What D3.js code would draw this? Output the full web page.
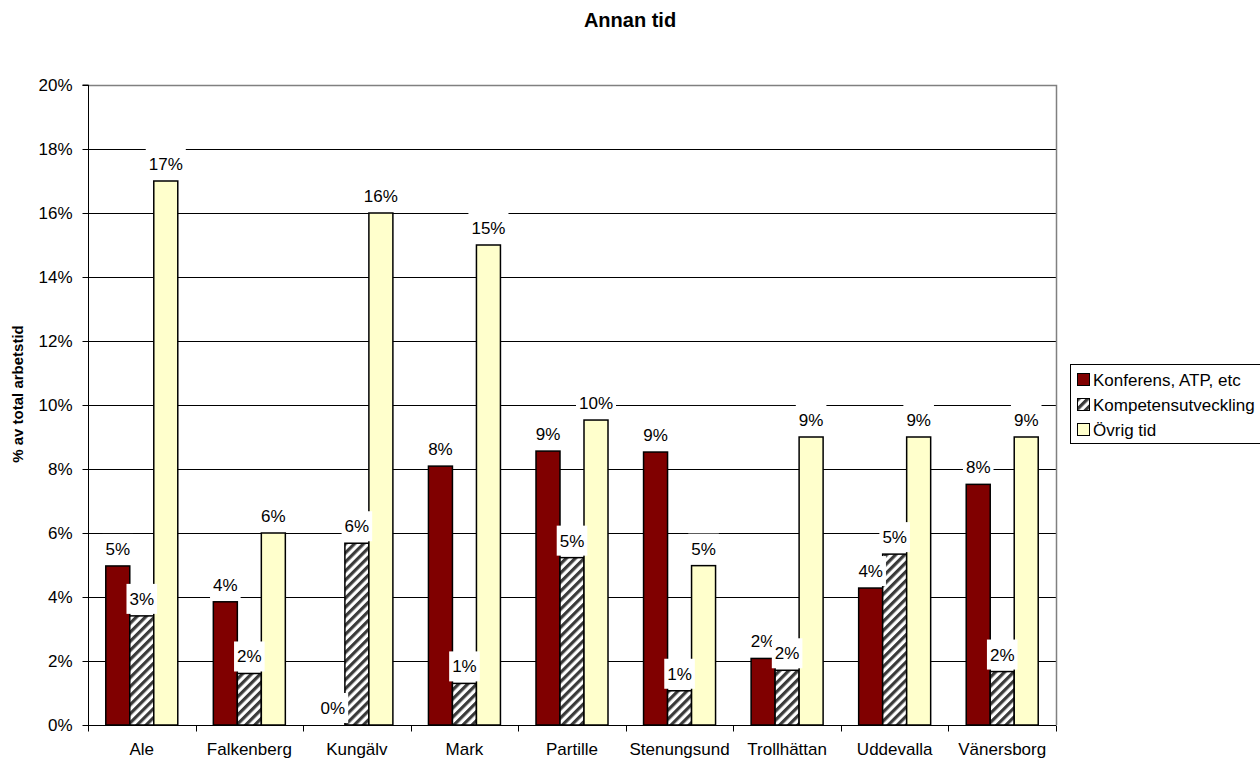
<!DOCTYPE html>
<html><head><meta charset="utf-8">
<script src="https://cdn.jsdelivr.net/npm/d3@7"></script>
<style>
html,body{margin:0;padding:0;background:#fff;}
svg{display:block;font-family:Arial,"Liberation Sans",sans-serif;}
</style></head>
<body>
<svg id="chart" width="1260" height="760"></svg>
<script>
const title = "Annan tid";
const yTitle = "% av total arbetstid";
const categories = ["Ale","Falkenberg","Kungälv","Mark","Partille","Stenungsund","Trollhättan","Uddevalla","Vänersborg"];
const seriesNames = ["Konferens, ATP, etc","Kompetensutveckling","Övrig tid"];
const konferens = [4.97, 3.85, 0, 8.09, 8.56, 8.53, 2.08, 4.28, 7.52];
const kompetens = [3.41, 1.61, 5.68, 1.30, 5.23, 1.07, 1.71, 5.34, 1.67];
const ovrig = [17.0, 6.0, 16.0, 15.0, 9.53, 4.98, 9.0, 9.0, 9.0];
const yTicks = [0,2,4,6,8,10,12,14,16,18,20];

const seriesValues = [konferens, kompetens, ovrig];
const fills = ["#800000","url(#hatch)","#FFFFCC"];

const svg = d3.select("#chart");
const L = 88, R = 1056, T = 85, B = 725;

const defs = svg.append("defs");
const pat = defs.append("pattern").attr("id","hatch").attr("patternUnits","userSpaceOnUse")
  .attr("width",6.4).attr("height",6.4).attr("patternTransform","rotate(45)");
pat.append("rect").attr("width",6.4).attr("height",6.4).attr("fill","#fff");
pat.append("rect").attr("width",3.2).attr("height",6.4).attr("fill","#3a3a3a");

const x0 = d3.scaleBand().domain(categories).range([L,R]).padding(0);
const bw = x0.bandwidth();
const groupW = 72;
const x1 = d3.scaleBand().domain(d3.range(3)).range([(bw-groupW)/2,(bw+groupW)/2]).padding(0);
const y = d3.scaleLinear().domain([0,20]).range([B,T]);

// gridlines
svg.append("g").selectAll("line").data(yTicks.filter(d=>d>0 && d<20)).join("line")
  .attr("x1",L).attr("x2",R).attr("y1",d=>Math.round(y(d))+0.5).attr("y2",d=>Math.round(y(d))+0.5)
  .attr("stroke","#000").attr("stroke-width",1);
// plot border top/right
svg.append("path").attr("d",`M${L},${T+0.5}H${R+0.5}V${B}`).attr("fill","none").attr("stroke","#808080").attr("stroke-width",1.5);

// bars
const data = [];
categories.forEach((c,i)=>seriesValues.forEach((s,j)=>data.push({c,j,v:s[i]})));
svg.append("g").selectAll("rect").data(data.filter(d=>d.v>0)).join("rect")
  .attr("x",d=>x0(d.c)+x1(d.j)).attr("width",x1.bandwidth())
  .attr("y",d=>y(d.v)).attr("height",d=>B-y(d.v))
  .attr("fill",d=>fills[d.j]).attr("stroke","#000").attr("stroke-width",1.5);

// axes
const yAxis = d3.axisLeft(y).tickValues(yTicks).tickSize(6).tickPadding(10).tickFormat(d=>d+"%");
const gy = svg.append("g").attr("transform",`translate(${L+0.5},0)`).call(yAxis);
gy.select(".domain").attr("stroke","#000").attr("d",`M-6,${T}H0V${B}`);
gy.selectAll(".tick line").attr("stroke","#000");
gy.selectAll("text").attr("font-size",17).attr("fill","#000").attr("font-family","Arial,'Liberation Sans',sans-serif");

const gx = svg.append("g").attr("transform",`translate(0,${B+0.5})`);
gx.append("line").attr("x1",L).attr("x2",R).attr("stroke","#000");
gx.selectAll("line.t").data(d3.range(categories.length+1)).join("line").attr("class","t")
  .attr("x1",i=>Math.round(L+i*bw)+0.5).attr("x2",i=>Math.round(L+i*bw)+0.5).attr("y1",0).attr("y2",6).attr("stroke","#000");
gx.selectAll("text").data(categories).join("text")
  .attr("x",d=>x0(d)+bw/2).attr("y",29).attr("text-anchor","middle")
  .attr("font-size",17).text(d=>d);

// data labels
const lg = svg.append("g");
data.forEach(d=>{
  const cx = x0(d.c)+x1(d.j)+x1.bandwidth()/2;
  const cy = y(d.v)-17;
  const g = lg.append("g");
  const t = g.append("text").attr("x",cx).attr("y",cy).attr("dy","0.35em").attr("text-anchor","middle")
    .attr("font-size",17).text(Math.round(d.v)+"%");
  const bb = t.node().getBBox();
  g.insert("rect","text").attr("x",bb.x-3).attr("y",cy-15).attr("width",bb.width+6).attr("height",30).attr("fill","#fff");
});

// title
svg.append("text").attr("x",630).attr("y",27).attr("text-anchor","middle").attr("font-size",20).attr("font-weight","bold").text(title);
svg.append("text").attr("transform","translate(23,394) rotate(-90)").attr("text-anchor","middle")
  .attr("font-size",15).attr("font-weight","bold").text(yTitle);

// legend
const leg = svg.append("g");
leg.append("rect").attr("x",1070.5).attr("y",364.5).attr("width",220).attr("height",79).attr("fill","#fff").attr("stroke","#000");
seriesNames.forEach((n,i)=>{
  const cy = 380 + i*25;
  leg.append("rect").attr("x",1077.5).attr("y",cy-6.5).attr("width",12).attr("height",12).attr("fill",fills[i]).attr("stroke","#000");
  leg.append("text").attr("x",1093).attr("y",cy).attr("dy","0.35em").attr("font-size",17).text(n);
});
</script>
</body></html>
